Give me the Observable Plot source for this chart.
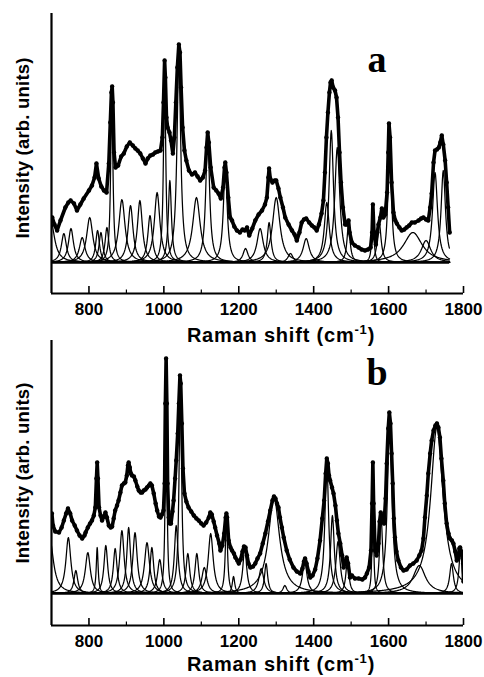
<!DOCTYPE html>
<html><head><meta charset="utf-8">
<script src="https://cdn.jsdelivr.net/npm/d3@7"></script>
<script src="https://cdn.jsdelivr.net/npm/@observablehq/plot@0.6"></script>
<style>
body{margin:0;background:#fff;}
#wrap{position:relative;width:484px;height:677px;overflow:hidden;background:#fff;}
#wrap svg{position:absolute;left:0;}
</style></head><body><div id="wrap"></div>
<script>
const xTicks = [800, 1000, 1200, 1400, 1600, 1800];
const xMinorTicks = [900, 1100, 1300, 1500, 1700];
const xLabel = "Raman shift (cm";
const yLabel = "Intensity (arb. units)";
const panelLetters = ["a", "b"];

// Panel a: measured spectrum [Raman shift, intensity]
const spectrumA = [
[702,45],[708,38],[715,32],[724,42],[737,55],[745,60],[751,62],[760,59],[768,52],[777,58],[786,64],[800,72],[808,77],[815,85],[820,99],[826,84],[833,76],[840,72],[847,70],[853,99],[857,140],[860,170],[862,176],[864,160],[867,110],[871,95],[878,97],[886,106],[893,109],[901,116],[909,120],[917,117],[924,114],[930,112],[937,109],[944,104],[951,99],[957,104],[964,107],[971,108],[977,110],[984,111],[991,112],[996,125],[999,160],[1002,202],[1004,185],[1007,145],[1010,135],[1015,130],[1019,122],[1024,109],[1028,125],[1032,160],[1036,195],[1040,218],[1043,210],[1046,175],[1050,135],[1055,112],[1060,102],[1067,92],[1075,88],[1083,90],[1090,86],[1097,82],[1104,85],[1110,92],[1114,115],[1117,130],[1120,120],[1125,95],[1133,75],[1140,72],[1146,69],[1152,64],[1158,75],[1162,95],[1164,100],[1167,90],[1172,65],[1177,45],[1182,42],[1188,36],[1195,32],[1203,30],[1210,33],[1216,32],[1222,35],[1228,27],[1236,34],[1244,42],[1253,48],[1262,52],[1270,58],[1275,65],[1279,85],[1281,94],[1284,84],[1290,80],[1296,82],[1300,82],[1306,74],[1311,65],[1318,55],[1324,45],[1333,38],[1342,32],[1349,28],[1355,22],[1362,30],[1368,40],[1374,43],[1380,44],[1388,40],[1395,37],[1402,35],[1408,32],[1414,38],[1421,49],[1426,62],[1430,90],[1434,125],[1438,150],[1442,170],[1445,180],[1448,182],[1452,175],[1457,172],[1461,165],[1465,145],[1469,110],[1473,80],[1478,55],[1484,38],[1488,38],[1493,42],[1496,30],[1502,20],[1510,17],[1520,15],[1528,13],[1537,12],[1545,13],[1552,15],[1556,30],[1558,58],[1561,30],[1566,18],[1570,30],[1573,38],[1578,45],[1582,54],[1586,45],[1591,48],[1596,70],[1599,110],[1601,139],[1604,125],[1608,80],[1613,50],[1618,42],[1622,39],[1629,35],[1635,32],[1642,33],[1648,35],[1655,37],[1662,40],[1670,40],[1680,42],[1687,44],[1693,45],[1700,43],[1706,42],[1711,55],[1715,69],[1720,100],[1724,112],[1729,113],[1734,115],[1738,120],[1742,127],[1746,118],[1751,102],[1755,80],[1759,55],[1763,30]
];
// Panel a: fitted Lorentzian bands
const bandCenterA = [698,733,752,782,802,823,832,848,861,888,911,936,963,982,1002,1016,1040,1087,1117,1164,1218,1257,1281,1300,1338,1380,1435,1447,1463,1493,1558,1575,1603,1665,1700,1724,1746];
const bandHeightA = [42,29,34,25,45,32,30,35,172,63,57,62,47,70,195,82,205,65,128,97,14,34,40,65,9,24,60,132,115,38,56,40,137,30,22,90,92];
const bandWidthA  = [12,8,8,9,10,6,6,6,3.5,10,8,8,7,9,3.5,5,6,12,6,6,8,10,6,12,8,10,8,7,8,5,3,6,5,30,15,8,7];

// Panel b: measured spectrum
const spectrumB = [
[701,80],[704,68],[710,62],[720,61],[727,66],[733,73],[739,80],[744,85],[750,80],[755,73],[762,68],[768,63],[775,58],[782,55],[788,58],[791,61],[797,66],[803,70],[808,73],[813,78],[817,86],[820,115],[822,131],[824,115],[827,86],[831,78],[835,73],[840,77],[844,81],[848,76],[853,68],[858,66],[862,67],[866,75],[870,83],[875,88],[879,93],[884,101],[888,108],[893,110],[897,111],[901,118],[904,128],[906,131],[909,126],[912,120],[915,118],[920,117],[924,113],[929,107],[933,103],[938,101],[942,101],[946,103],[951,104],[955,106],[960,108],[964,110],[968,108],[973,100],[978,90],[982,83],[987,77],[991,76],[995,79],[999,83],[1002,110],[1004,190],[1006,235],[1008,190],[1010,110],[1013,76],[1016,70],[1019,70],[1023,82],[1026,93],[1030,115],[1033,133],[1037,160],[1040,190],[1043,218],[1045,210],[1048,170],[1051,125],[1055,100],[1060,92],[1066,86],[1073,82],[1080,78],[1087,75],[1093,73],[1100,70],[1106,68],[1113,71],[1120,76],[1124,81],[1128,79],[1133,72],[1137,66],[1142,58],[1148,50],[1151,43],[1156,48],[1161,60],[1165,76],[1167,80],[1169,76],[1173,53],[1178,46],[1182,43],[1187,40],[1191,36],[1196,33],[1200,30],[1205,34],[1210,42],[1214,47],[1218,46],[1222,38],[1226,30],[1231,26],[1238,27],[1244,30],[1250,35],[1257,40],[1264,50],[1271,60],[1278,72],[1284,83],[1290,93],[1294,97],[1298,95],[1302,90],[1306,86],[1310,76],[1315,66],[1320,56],[1328,43],[1336,34],[1346,26],[1355,22],[1364,20],[1370,25],[1374,32],[1377,35],[1381,30],[1386,22],[1391,16],[1397,18],[1404,24],[1410,35],[1417,53],[1423,75],[1428,93],[1432,120],[1435,135],[1438,130],[1441,118],[1444,113],[1449,106],[1453,100],[1458,88],[1462,73],[1466,60],[1471,50],[1476,38],[1480,26],[1485,32],[1488,36],[1492,30],[1497,16],[1502,18],[1510,15],[1520,15],[1530,14],[1537,16],[1542,20],[1548,26],[1553,43],[1556,90],[1558,131],[1560,90],[1564,43],[1568,38],[1573,50],[1576,72],[1579,81],[1583,75],[1588,70],[1592,95],[1595,130],[1599,165],[1602,181],[1605,170],[1608,140],[1611,110],[1614,75],[1617,56],[1621,42],[1626,33],[1633,26],[1640,23],[1648,24],[1657,28],[1666,30],[1675,33],[1682,38],[1688,43],[1693,55],[1697,76],[1702,98],[1706,120],[1711,140],[1715,153],[1720,163],[1725,168],[1729,170],[1733,166],[1737,156],[1741,135],[1746,113],[1750,90],[1755,70],[1760,60],[1764,55],[1769,53],[1773,50],[1778,42],[1782,33],[1786,35],[1789,45],[1791,46],[1794,42],[1797,38],[1799,30],[1800,12]
];
const bandCenterB = [695,745,765,797,822,845,870,888,906,923,955,968,989,1006,1033,1044,1064,1088,1108,1125,1167,1186,1216,1260,1273,1294,1323,1376,1435,1450,1465,1490,1558,1580,1603,1682,1729,1768,1792];
const bandHeightB = [56,56,23,41,46,48,45,63,66,61,51,46,34,230,68,212,40,40,26,60,76,17,46,25,30,96,8,33,130,78,52,33,130,76,178,28,166,30,43];
const bandWidthB  = [12,8,6,8,3,6,6,7,6,7,8,6,7,2.5,6,4,6,6,8,8,3.5,4,6,8,5,18,6,7,6,6,7,5,2,5,7,20,20,6,5];

function bandPoints(centers, heights, widths, xEnd) {
  const pts = [];
  centers.forEach((c, k) => {
    const h = heights[k], w = widths[k];
    const lo = Math.max(700, c - 40 * w), hi = Math.min(xEnd, c + 40 * w);
    const step = Math.max(0.3, Math.min(1.5, w / 6));
    for (let x = lo; x <= hi + 1e-9; x += step) {
      pts.push({k, x, y: h / (1 + ((x - c) / w) ** 2)});
    }
  });
  return pts;
}

function panel(spec, centers, heights, widths, xEnd, yMin, yMax, height, marginTop, marginBottom) {
  const data = spec.map(([x, y]) => ({x, y}));
  const bands = bandPoints(centers, heights, widths, xEnd);
  return Plot.plot({
    width: 484, height, marginLeft: 51, marginRight: 21, marginTop, marginBottom,
    style: {background: "transparent", fontFamily: "'Liberation Sans', Arial, sans-serif", fontSize: "17px", fontWeight: "bold", color: "black"},
    x: {domain: [700, 1800], ticks: xTicks, tickSize: 0, tickPadding: 9, tickFormat: d => String(d), label: null},
    y: {domain: [yMin, yMax], axis: null},
    marks: [
      Plot.ruleX([700], {stroke: "black", strokeWidth: 2.2}),
      Plot.ruleY([yMin], {stroke: "black", strokeWidth: 2.2}),
      Plot.ruleX(xTicks, {x: d => d, y1: yMin, y2: yMin + 7, stroke: "black", strokeWidth: 1.6}),
      Plot.ruleX(xMinorTicks, {x: d => d, y1: yMin, y2: yMin + 3.5, stroke: "black", strokeWidth: 1.2}),
      Plot.ruleY([0], {x1: 700, x2: xEnd, stroke: "black", strokeWidth: 2.5}),
      Plot.line(bands, {x: "x", y: "y", z: "k", stroke: "black", strokeWidth: 1.25, clip: true}),
      Plot.line(data, {x: "x", y: "y", stroke: "black", strokeWidth: 3.6, clip: true}),
      Plot.dot(data, {x: "x", y: "y", r: 2.2, fill: "black", stroke: "none", clip: true})
    ]
  });
}

const wrap = document.getElementById("wrap");
const pa = panel(spectrumA, bandCenterA, bandHeightA, bandWidthA, 1763, -31, 249, 345, 13, 52);
pa.style.top = "0px";
wrap.appendChild(pa);
const pb = panel(spectrumB, bandCenterB, bandHeightB, bandWidthB, 1800, -32, 253, 347, 10, 52);
pb.style.top = "330px";
wrap.appendChild(pb);

// overlay text
const ov = d3.select(wrap).append("svg").attr("width", 484).attr("height", 677).style("top", "0px")
  .style("font-family", "'Liberation Sans', Arial, sans-serif").style("font-weight", "bold");
[[0, 148, 342, 72], [1, 473, 671, 385]].forEach(([i, yc, xlBase, letBase]) => {
  ov.append("text").attr("transform", `translate(29,${yc}) rotate(-90)`).attr("text-anchor", "middle")
    .attr("font-size", 18.5).attr("letter-spacing", 0.2).text(yLabel);
  const t = ov.append("text").attr("x", 281).attr("y", xlBase).attr("text-anchor", "middle").attr("font-size", 20).attr("letter-spacing", 0.8);
  t.append("tspan").text(xLabel);
  t.append("tspan").attr("font-size", 13).attr("dy", -8).text("-1");
  t.append("tspan").attr("dy", 8).text(")");
  ov.append("text").attr("x", 377).attr("y", letBase).attr("text-anchor", "middle")
    .attr("font-family", "'Liberation Serif', 'Times New Roman', serif").attr("font-size", 38).attr("font-weight", "bold")
    .text(panelLetters[i]);
});
</script></body></html>
